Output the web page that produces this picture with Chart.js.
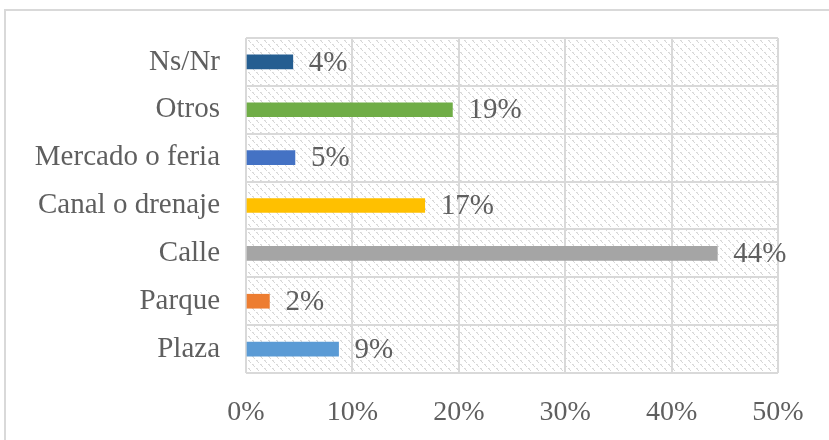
<!DOCTYPE html>
<html>
<head>
<meta charset="utf-8">
<script src="https://cdn.jsdelivr.net/npm/chart.js@4/dist/chart.umd.min.js"></script>
<style>
  html, body { margin: 0; padding: 0; background: #fff; overflow: hidden; }
  #wrap { position: absolute; left: 0; top: 0; width: 829px; height: 440px; }
  #frame { position: absolute; left: 4px; top: 9px; width: 900px; height: 500px;
           border-left: 2px solid #d9d9d9; border-top: 2px solid #d9d9d9; box-sizing: border-box; }
</style>
</head>
<body>
<div id="wrap">
  <div id="frame"></div>
  <canvas id="c" width="829" height="440"></canvas>
</div>
<script>
const categories = ['Ns/Nr', 'Otros', 'Mercado o feria', 'Canal o drenaje', 'Calle', 'Parque', 'Plaza'];
const values = [4.4, 19.4, 4.6, 16.8, 44.3, 2.2, 8.7];
const valueLabels = ['4%', '19%', '5%', '17%', '44%', '2%', '9%'];
const barColors = ['#255e91', '#70ad47', '#4472c4', '#ffc000', '#a5a5a5', '#ed7d31', '#5b9bd5'];
const xTicks = [0, 10, 20, 30, 40, 50];

const FONT = '"Liberation Serif", "DejaVu Serif", serif';
const TEXT = '#5f5f5f';

// hatch pattern like Excel's light downward diagonal (dashed look)
function makeHatch(ctx) {
  const p = document.createElement('canvas');
  p.width = 8; p.height = 8;
  const pc = p.getContext('2d');
  pc.fillStyle = '#fff';
  pc.fillRect(0, 0, 8, 8);
  for (let y = 0; y < 8; y++) {
    for (let x = 0; x < 8; x++) {
      const d = (x - y + 8) % 8;
      if (d === 0 && x % 4 !== 3) { pc.fillStyle = '#d6d6d6'; pc.fillRect(x, y, 1, 1); }
      else if (d === 1 && x % 4 === 1) { pc.fillStyle = '#e4e4e4'; pc.fillRect(x, y, 1, 1); }
    }
  }
  return ctx.createPattern(p, 'repeat');
}

const hatchBg = {
  id: 'hatchBg',
  beforeDraw(chart) {
    const { ctx, chartArea: a } = chart;
    ctx.save();
    ctx.fillStyle = makeHatch(ctx);
    ctx.fillRect(a.left, a.top, a.right - a.left, a.bottom - a.top);
    ctx.restore();
  }
};

const barLabels = {
  id: 'barLabels',
  afterDatasetsDraw(chart) {
    const { ctx } = chart;
    const meta = chart.getDatasetMeta(0);
    ctx.save();
    ctx.font = '29px ' + FONT;
    ctx.fillStyle = TEXT;
    ctx.textAlign = 'left';
    ctx.textBaseline = 'middle';
    meta.data.forEach((bar, i) => {
      ctx.fillText(valueLabels[i], bar.x + 16, bar.y + 1);
    });
    ctx.restore();
  }
};

new Chart(document.getElementById('c'), {
  type: 'bar',
  data: {
    labels: categories,
    datasets: [{
      data: values,
      backgroundColor: barColors,
      barThickness: 14,
      borderWidth: 0
    }]
  },
  options: {
    indexAxis: 'y',
    responsive: false,
    animation: false,
    layout: { padding: { top: 38, right: 51, left: 0, bottom: 0 } },
    plugins: { legend: { display: false }, tooltip: { enabled: false } },
    scales: {
      x: {
        min: 0, max: 50,
        afterBuildTicks: s => { s.ticks = xTicks.map(v => ({ value: v })); },
        afterFit: s => { s.height = 67; s.paddingLeft = 0; s.paddingRight = 0; },
        grid: { color: '#d9d9d9', lineWidth: 2, drawTicks: false },
        border: { display: false },
        ticks: {
          padding: 23,
          color: TEXT,
          font: { family: FONT, size: 28 },
          callback: v => v + '%'
        }
      },
      y: {
        afterFit: s => { s.width = 246; s.paddingTop = 0; s.paddingBottom = 0; },
        grid: { color: '#d9d9d9', lineWidth: 2, drawTicks: false, offset: true },
        border: { display: false },
        ticks: {
          padding: 26,
          color: TEXT,
          font: { family: FONT, size: 29 }
        }
      }
    }
  },
  plugins: [hatchBg, barLabels]
});
</script>
</body>
</html>
